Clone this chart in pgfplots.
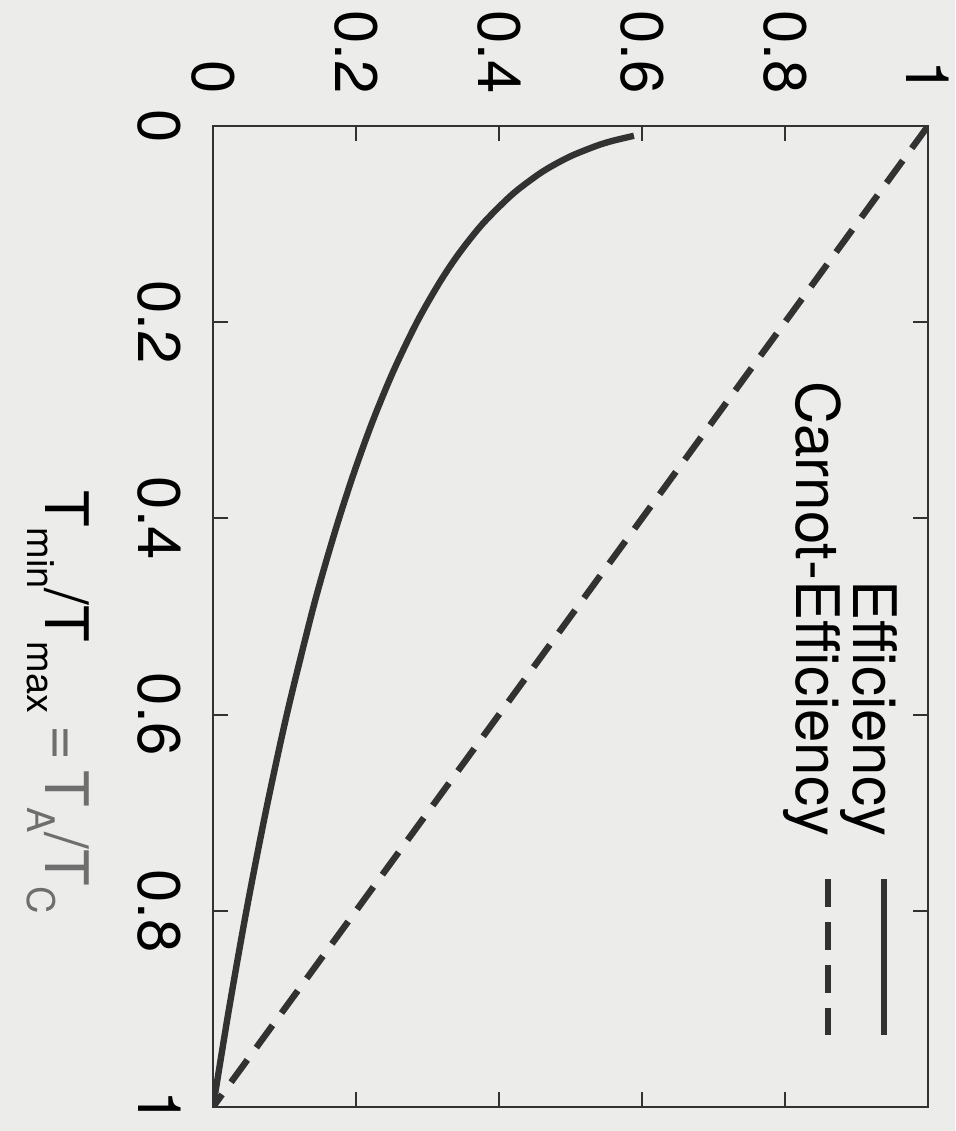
\documentclass[border=0pt]{standalone}
\usepackage{graphicx}
\usepackage{fontspec}
\setmainfont{TeX Gyre Heros}
\usepackage{pgfplots}
\pgfplotsset{compat=1.18}

\definecolor{paper}{RGB}{236,236,234}
\definecolor{ink}{RGB}{50,50,50}
\definecolor{pencil}{RGB}{110,110,110}
\newcommand\lo[1]{\raisebox{-4.5pt}{\fontsize{9.5}{11}\selectfont #1}}

\begin{document}
\rotatebox{-90}{%
\begin{tikzpicture}
\fill[paper] (-31.5pt,-53.25pt) rectangle (251.25pt,185.5pt);
\begin{axis}[
  scale only axis,
  width=245.25pt,
  height=178.75pt,
  xmin=0, xmax=1,
  ymin=0, ymax=1,
  xtick={0,0.2,0.4,0.6,0.8,1},
  ytick={0,0.2,0.4,0.6,0.8,1},
  tick align=inside,
  major tick length=3.75pt,
  axis line style={ink, line width=0.5pt},
  every tick/.style={ink, line width=0.5pt},
  font=\fontsize{15}{18}\selectfont,
  /pgf/number format/assume math mode=true,
  xticklabel style={yshift=-4.5pt},
  yticklabel style={xshift=-4.5pt},
  xlabel={T\lo{min}/T\lo{max}\hspace{3pt}{\color{pencil}=\hspace{2.5pt}T\lo{A}/T\lo{C}}},
  xlabel style={at={(axis description cs:0.371,-0.172)}, anchor=north west, inner sep=0pt},
  legend style={draw=none, fill=none, at={(0.931,0.958)}, anchor=north east,
    inner sep=0pt, row sep=1.5pt, column sep=10pt, nodes={inner sep=0pt},
    font=\fontsize{15}{18}\selectfont},
  legend cell align=right,
  legend plot pos=right,
  legend image code/.code={\draw[#1] (0pt,3pt) -- (39pt,3pt);},
]
\addplot[ink, line width=1.6pt, smooth] coordinates {
  (0.010,0.5887) (0.015,0.5597) (0.020,0.5372) (0.030,0.5027) (0.040,0.4760)
  (0.050,0.4539) (0.070,0.4181) (0.100,0.3768) (0.130,0.3440) (0.160,0.3165)
  (0.200,0.2852) (0.250,0.2522) (0.300,0.2238) (0.350,0.1988) (0.400,0.1763)
  (0.450,0.1558) (0.500,0.1370) (0.600,0.1032) (0.700,0.0735) (0.800,0.0467)
  (0.900,0.0224) (1.000,0.0000)
};
\addlegendentry{Efficiency}
\addplot[ink, line width=1.6pt, dash pattern=on 6.9pt off 3.8pt] coordinates {
  (0,1) (1,0)
};
\addlegendentry{Carnot-Efficiency}
\end{axis}
\pgfresetboundingbox
\path[use as bounding box] (-31.5pt,-53.25pt) rectangle (251.25pt,185.5pt);
\end{tikzpicture}}
\end{document}
